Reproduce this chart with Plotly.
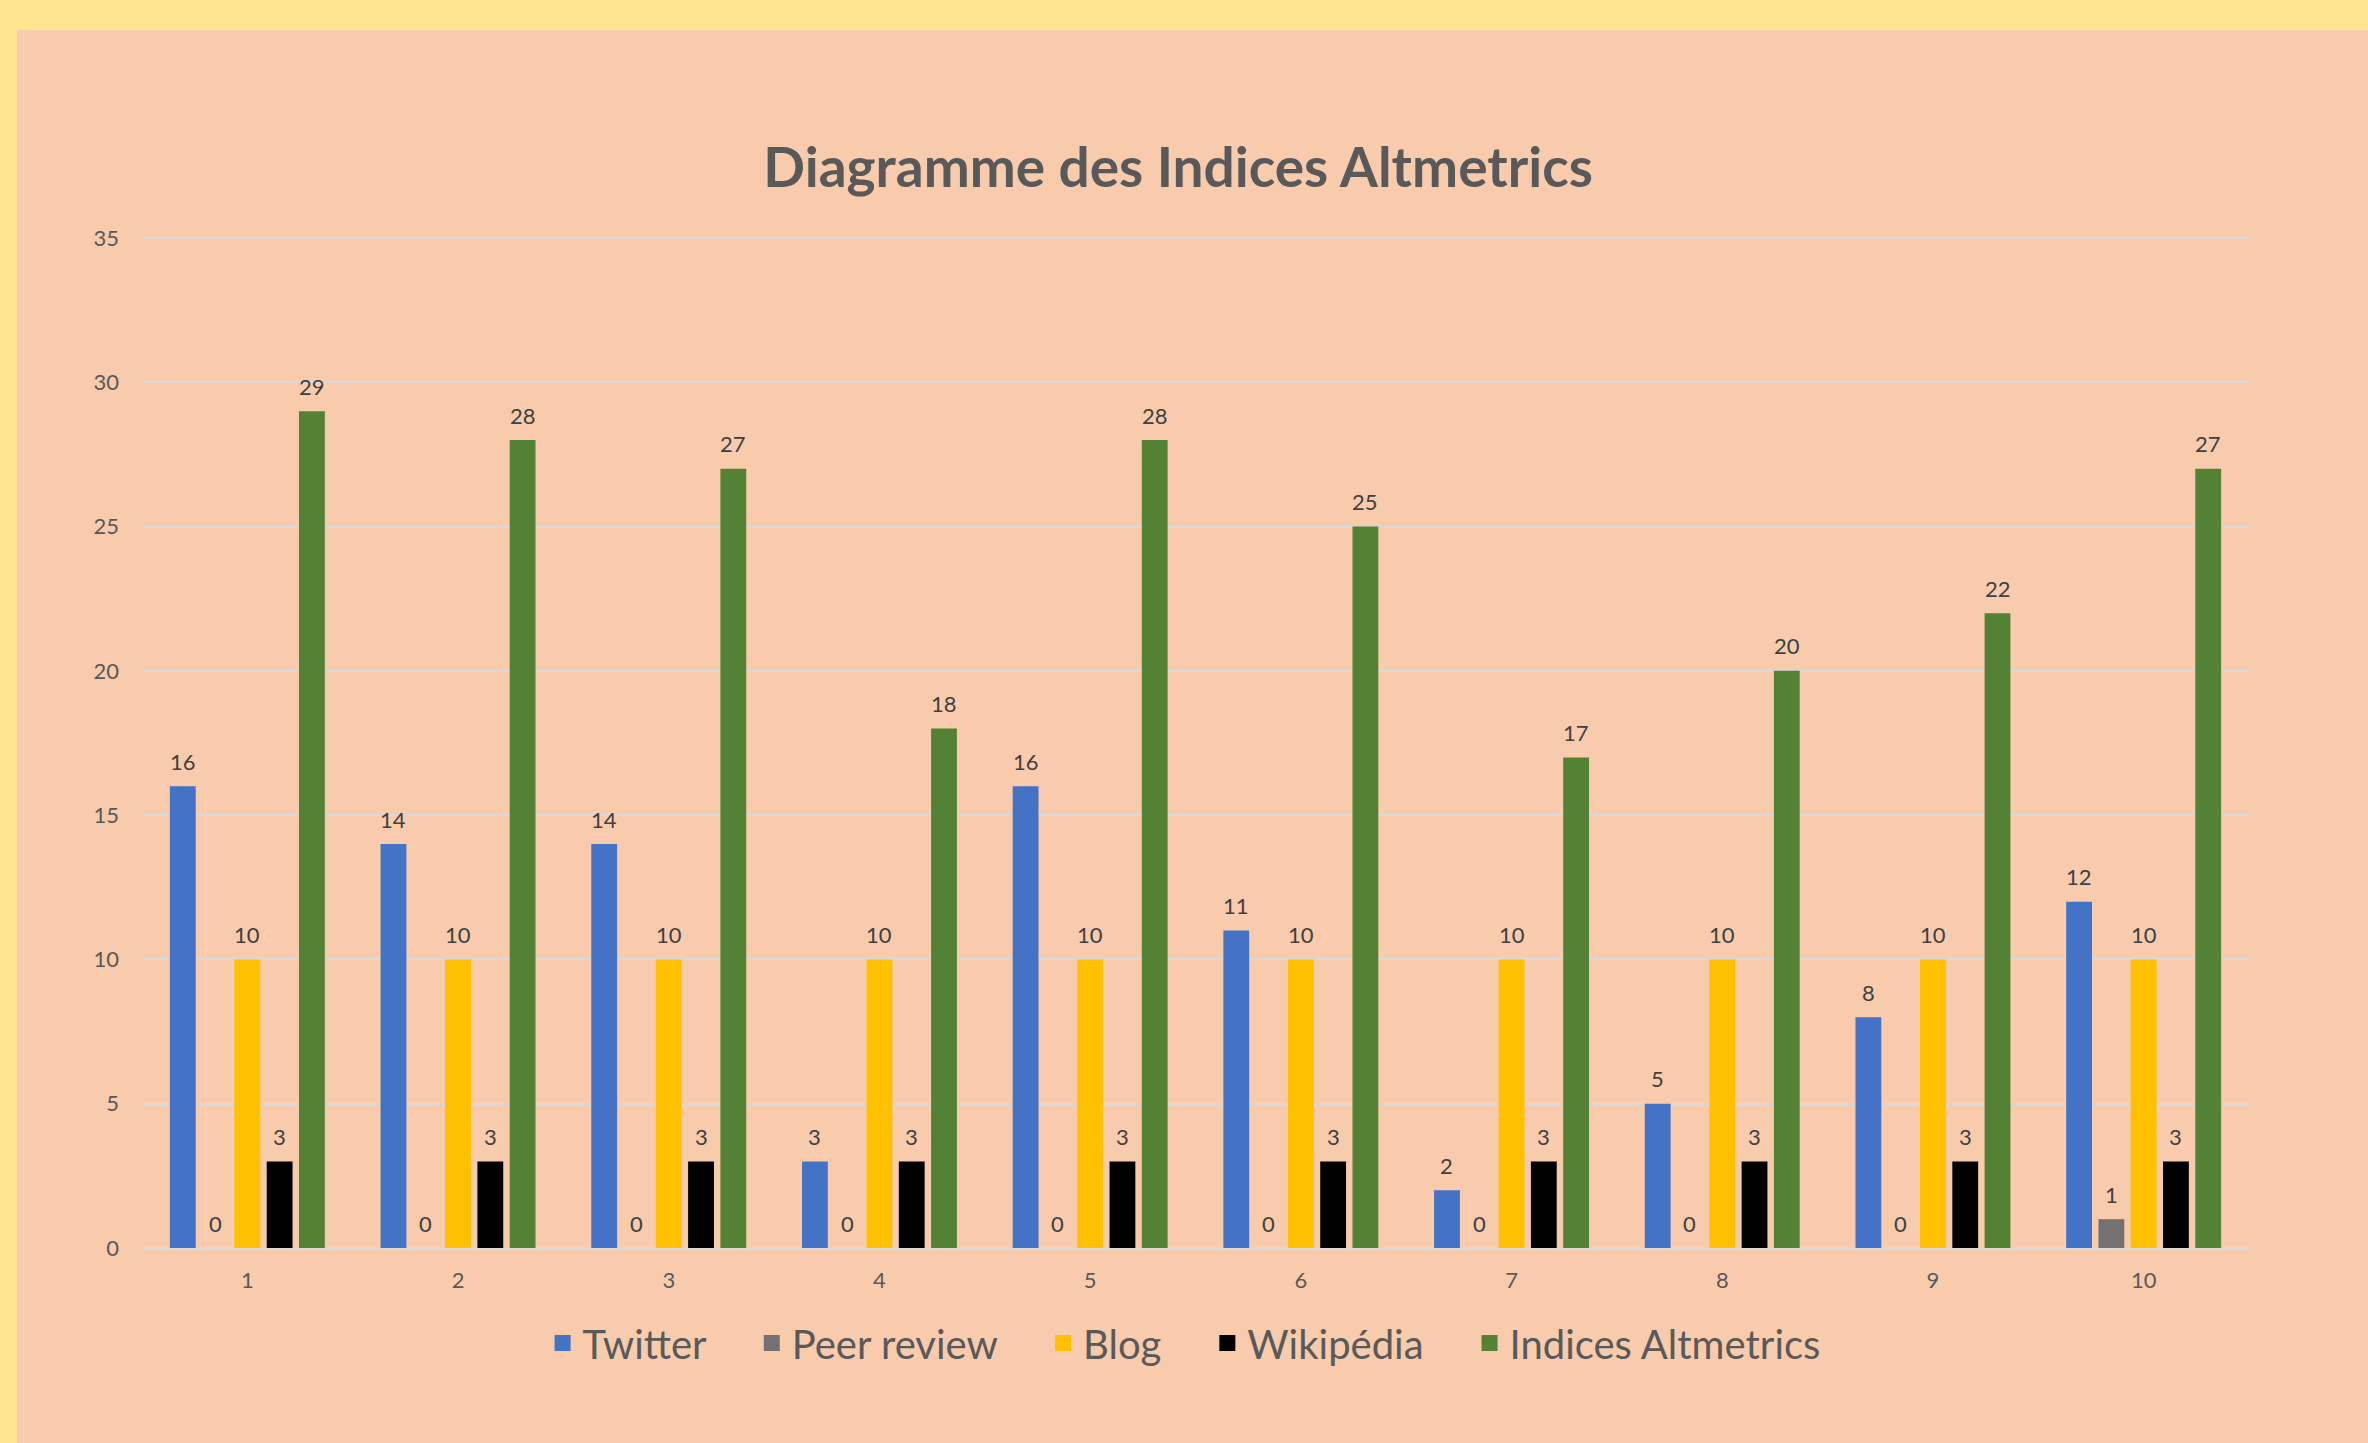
import plotly.graph_objects as go

categories = ["1", "2", "3", "4", "5", "6", "7", "8", "9", "10"]
twitter = [16, 14, 14, 3, 16, 11, 2, 5, 8, 12]
peer_review = [0, 0, 0, 0, 0, 0, 0, 0, 0, 1]
blog = [10, 10, 10, 10, 10, 10, 10, 10, 10, 10]
wikipedia = [3, 3, 3, 3, 3, 3, 3, 3, 3, 3]
altmetrics = [29, 28, 27, 18, 28, 25, 17, 20, 22, 27]
y_ticks = [0, 5, 10, 15, 20, 25, 30, 35]

series_names = ["Twitter", "Peer review", "Blog", "Wikipédia", "Indices Altmetrics"]
series_values = [twitter, peer_review, blog, wikipedia, altmetrics]
series_colors = ["#4472C4", "#767171", "#FFC000", "#000000", "#548235"]

W, H = 2368, 1443
ML, MR, MT, MB = 142, 119, 236, 195
PW, PH = W - ML - MR, H - MT - MB
BARGAP, BARGROUPGAP = 0.234, 0.2

FONT = "Lato, 'Open Sans', sans-serif"
TEXT = "#595959"

fig = go.Figure()
n_series = len(series_names)
slot_px = PW / len(categories) * (1 - BARGAP) / n_series
for i, (name, vals, col) in enumerate(zip(series_names, series_values, series_colors)):
    fig.add_trace(go.Bar(
        x=categories, y=vals, name=name, marker_color=col,
        marker_line_width=0, showlegend=False, hoverinfo="skip",
    ))
    # data labels, placed above each bar of the group
    shift = (i - (n_series - 1) / 2) * slot_px
    for ci, v in enumerate(vals):
        fig.add_annotation(x=ci, y=v, xref="x", yref="y", text=str(v),
                           showarrow=False, xshift=shift, yshift=25,
                           xanchor="center", yanchor="middle",
                           font=dict(size=22, color="#404040", family=FONT))

# legend entries with larger square symbols
for name, col in zip(series_names, series_colors):
    fig.add_trace(go.Scatter(
        x=[categories[0]], y=[None], mode="markers",
        name=name + "\u00a0\u00a0\u00a0\u00a0",
        marker=dict(symbol="square", size=16, color=col),
    ))

def px_to_paper_x(px):
    return (px - ML) / PW

def px_to_paper_y(py):
    return (H - MB - py) / PH

# yellow frame bands (top and left)
fig.add_shape(type="rect", xref="paper", yref="paper",
              x0=px_to_paper_x(0), x1=px_to_paper_x(W),
              y0=px_to_paper_y(30), y1=px_to_paper_y(0),
              fillcolor="#FFE592", line_width=0, layer="below")
fig.add_shape(type="rect", xref="paper", yref="paper",
              x0=px_to_paper_x(0), x1=px_to_paper_x(17),
              y0=px_to_paper_y(H), y1=px_to_paper_y(0),
              fillcolor="#FFE592", line_width=0, layer="below")

fig.update_layout(
    width=W, height=H,
    margin=dict(l=ML, r=MR, t=MT, b=MB, pad=0),
    paper_bgcolor="#F8CBAD", plot_bgcolor="#F8CBAD",
    barmode="group", bargap=BARGAP, bargroupgap=BARGROUPGAP,
    font=dict(family=FONT, color=TEXT),
    title=dict(text="<b>Diagramme des Indices Altmetrics</b>",
               font=dict(size=55, color=TEXT, family=FONT),
               x=0.4975, xref="container", xanchor="center",
               y=1 - 168 / H, yref="container", yanchor="middle"),
    legend=dict(orientation="h", x=0.5087, xref="container", xanchor="center",
                y=1 - 1343 / H, yref="container", yanchor="middle",
                font=dict(size=40, color=TEXT, family=FONT),
                bgcolor="rgba(0,0,0,0)", itemclick=False),
    showlegend=True,
)
fig.update_xaxes(type="category", categoryarray=categories, categoryorder="array",
                 range=[-0.5, len(categories) - 0.5],
                 showgrid=False, showline=True,
                 linecolor="#D9D9D9", linewidth=2, ticks="",
                 tickfont=dict(size=22, color=TEXT), ticklabelstandoff=12)
fig.update_yaxes(range=[0, 35.07], tickvals=y_ticks,
                 showgrid=True, gridcolor="#D9D9D9",
                 gridwidth=2, zeroline=True, zerolinecolor="#D9D9D9",
                 zerolinewidth=2, showline=False, ticks="",
                 tickfont=dict(size=22, color=TEXT), ticklabelstandoff=22)

fig.write_html("out.html", config={"displayModeBar": False},
               post_script="document.body.style.margin='0';"
                           "document.body.style.overflow='hidden';")
